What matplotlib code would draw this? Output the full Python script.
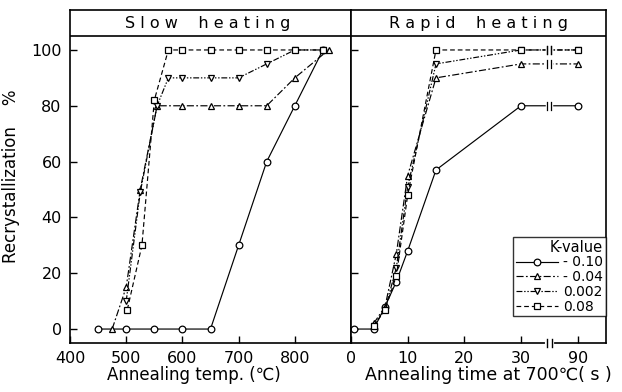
import numpy as np
import matplotlib
matplotlib.use("Agg")
import matplotlib.pyplot as plt

# Slow heating: annealing temperature (C) vs recrystallization (%)
slow_x_010 = [450, 500, 550, 600, 650, 700, 750, 800, 850]
slow_y_010 = [0, 0, 0, 0, 0, 30, 60, 80, 100]
slow_x_004 = [475, 500, 525, 555, 600, 650, 700, 750, 800, 860]
slow_y_004 = [0, 15, 50, 80, 80, 80, 80, 80, 90, 100]
slow_x_0002 = [500, 525, 555, 575, 600, 650, 700, 750, 800, 850]
slow_y_0002 = [10, 49, 80, 90, 90, 90, 90, 95, 100, 100]
slow_x_008 = [502, 528, 550, 575, 600, 650, 700, 750, 800, 850]
slow_y_008 = [7, 30, 82, 100, 100, 100, 100, 100, 100, 100]

# Rapid heating: annealing time at 700C (s) vs recrystallization (%)
rapid_x_010 = [0.5, 4, 6, 8, 10, 15, 30, 90]
rapid_y_010 = [0, 0, 8, 17, 28, 57, 80, 80]
rapid_x_004 = [4, 6, 8, 10, 15, 30, 90]
rapid_y_004 = [2, 8, 27, 55, 90, 95, 95]
rapid_x_0002 = [4, 6, 8, 10, 15, 30, 90]
rapid_y_0002 = [1, 7, 22, 51, 95, 100, 100]
rapid_x_008 = [4, 6, 8, 10, 15, 30, 90]
rapid_y_008 = [1, 7, 19, 48, 100, 100, 100]

k_labels = ["- 0.10", "- 0.04", "0.002", "0.08"]
markers = ["o", "^", "v", "s"]
styles = ["-", (0, (6, 2, 1.5, 2)), (0, (5, 1.5, 1.2, 1.5, 1.2, 1.5)), (0, (4, 2.5))]

time_ticks = [0, 10, 20, 30, 90]
brk = 35      # axis break position on time axis
pos_90 = 40   # plotted position of 90 s


def tpos(t):
    t = np.asarray(t, dtype=float)
    return np.where(t > 60, pos_90, t)


plt.rcParams['font.family'] = 'DejaVu Sans'
W, H = 622, 392
fig = plt.figure(figsize=(W / 100, H / 100), dpi=100)
bot = 1 - 343 / H
hgt = (343 - 10) / H
ax1 = fig.add_axes([70 / W, bot, 281 / W, hgt])
ax2 = fig.add_axes([351 / W, bot, 255 / W, hgt])

ytop = 105 + 26 / 2.79
for ax in (ax1, ax2):
    ax.set_ylim(-5, ytop)
    ax.axhline(105, color='black', lw=1.2)
    ax.tick_params(direction='in', length=5, width=1, labelsize=11.5, pad=6)
    for s in ax.spines.values():
        s.set_linewidth(1.2)
    ax.set_yticks([0, 20, 40, 60, 80, 100])

mk = dict(markerfacecolor='white', markeredgecolor='black', markersize=4.8,
          markeredgewidth=0.9, color='black', lw=0.85)

slow = [(slow_x_010, slow_y_010), (slow_x_004, slow_y_004),
        (slow_x_0002, slow_y_0002), (slow_x_008, slow_y_008)]
for (x, y), m, ls in zip(slow, markers, styles):
    ax1.plot(x, y, marker=m, linestyle=ls, **mk)

ax1.set_xlim(400, 900)
ax1.set_xticks([400, 500, 600, 700, 800])
ax1.set_ylabel('Recrystallization    %', fontsize=12, labelpad=8)
ax1.set_xlabel('Annealing temp. (\u2103)', fontsize=12)
ax1.xaxis.set_label_coords(0.44, -0.07)
ax1.text(0.49, (105 + ytop) / 2, 'S l o w    h e a t i n g', ha='center', va='center',
         fontsize=11.5, transform=ax1.get_yaxis_transform())

rapid = [(rapid_x_010, rapid_y_010), (rapid_x_004, rapid_y_004),
         (rapid_x_0002, rapid_y_0002), (rapid_x_008, rapid_y_008)]
handles = []
for (x, y), m, ls, lab in zip(rapid, markers, styles, k_labels):
    h, = ax2.plot(tpos(x), y, marker=m, linestyle=ls, label=lab, **mk)
    handles.append(h)
    # break marks on the line
    yb = y[-1]
    ax2.plot([brk - 0.35, brk + 0.35], [yb, yb], color='white', lw=2.5, zorder=3)
    for dx in (-0.35, 0.35):
        ax2.plot([brk + dx, brk + dx], [yb - 1.5, yb + 1.5], color='black', lw=0.9, zorder=4)

ax2.set_xlim(0, 45)
ax2.set_xticks(tpos(time_ticks))
ax2.set_xticklabels([str(t) for t in time_ticks])
ax2.tick_params(axis='y', labelleft=False)
ax2.set_xlabel('Annealing time at 700\u2103( s )', fontsize=12.5)
ax2.xaxis.set_label_coords(0.54, -0.07)
ax2.text(0.5, (105 + ytop) / 2, 'R a p i d    h e a t i n g', ha='center', va='center',
         fontsize=11.5, transform=ax2.get_yaxis_transform())

# break on the time axis
ax2.plot([brk - 0.4, brk + 0.4], [-5, -5], color='white', lw=3, zorder=5, clip_on=False)
for dx in (-0.4, 0.4):
    ax2.plot([brk + dx, brk + dx], [-6.5, -3.5], color='black', lw=1, zorder=6, clip_on=False)

leg = ax2.legend(handles=handles, title='K-value', loc='lower right',
                 bbox_to_anchor=(1.0, 0.08), fontsize=10, title_fontsize=10.5,
                 frameon=True, fancybox=False, edgecolor='black', handlelength=3,
                 borderpad=0.2, labelspacing=0.05, handletextpad=0.4, borderaxespad=0)
leg.get_frame().set_linewidth(1.0)
leg._legend_box.align = 'right'

fig.savefig('out.png', dpi=100)
